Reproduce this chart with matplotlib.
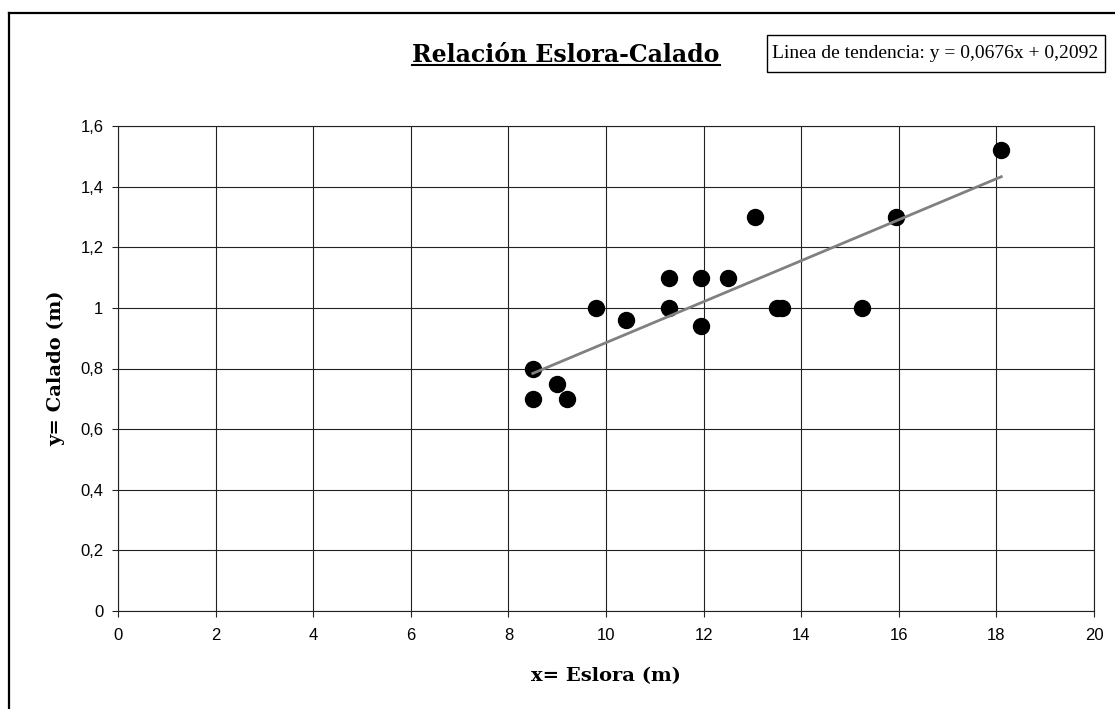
import matplotlib
matplotlib.use('Agg')
import matplotlib.pyplot as plt
from matplotlib.lines import Line2D
from matplotlib.patches import Rectangle
import numpy as np

# Data (eslora / calado en metros)
eslora = [8.5, 8.5, 9.0, 9.2, 9.8, 10.4, 11.3, 11.3, 11.95, 11.95,
          12.5, 13.05, 13.5, 13.6, 15.25, 15.95, 18.1]
calado = [0.8, 0.7, 0.75, 0.7, 1.0, 0.96, 1.1, 1.0, 1.1, 0.94,
          1.1, 1.3, 1.0, 1.0, 1.0, 1.3, 1.52]

# Linea de tendencia
pendiente = 0.0676
ordenada = 0.2092

x_ticks = np.arange(0, 21, 2)
y_ticks = np.arange(0, 1.61, 0.2)

W, H = 1115, 709
fig = plt.figure(figsize=(W / 100, H / 100), dpi=100)
ax = fig.add_axes([118 / W, 1 - 611 / H, 976 / W, 485 / H])

grid_col = '#222222'
ax.set_xlim(0, 20)
ax.set_ylim(0, 1.6)
ax.set_xticks(x_ticks)
ax.set_yticks(y_ticks)
ax.set_xticklabels([f'{v:g}' for v in x_ticks])
ax.set_yticklabels([f'{v:.1f}'.replace('.', ',') if v not in (0, 1) else f'{v:.0f}'
                    for v in y_ticks])
ax.grid(True, color=grid_col, linewidth=0.8)
ax.set_axisbelow(True)
for s in ax.spines.values():
    s.set_color(grid_col)
    s.set_linewidth(0.8)
ax.tick_params(axis='both', direction='out', length=4.5, width=0.8, color=grid_col,
               labelsize=12, labelcolor='black')
ax.tick_params(axis='x', pad=8)
ax.tick_params(axis='y', pad=6)
for lab in ax.get_xticklabels() + ax.get_yticklabels():
    lab.set_fontfamily('Liberation Sans')

# Puntos
ax.plot(eslora, calado, 'o', color='black', markersize=11.5, zorder=3)

# Tendencia
xt = np.array([min(eslora), max(eslora)])
ax.plot(xt, pendiente * xt + ordenada, color='#808080', linewidth=2, zorder=4)

# Etiquetas de ejes
ax.set_xlabel('x= Eslora (m)', fontfamily='DejaVu Serif', fontweight='bold', fontsize=14)
ax.set_ylabel('y= Calado (m)', fontfamily='DejaVu Serif', fontweight='bold', fontsize=14)
ax.xaxis.set_label_coords(0.5, (611 - 676) / 485)
ax.xaxis.label.set_va('center')
ax.yaxis.set_label_coords((56 - 118) / 976, 0.5)
ax.yaxis.label.set_va('center')

# Titulo subrayado
title = fig.text(566 / W, 1 - 62 / H, 'Relación Eslora-Calado', ha='center', va='baseline',
                 fontfamily='DejaVu Serif', fontweight='bold', fontsize=17)
fig.canvas.draw()
bb = title.get_window_extent(fig.canvas.get_renderer())
uy = 1 - 65 / H
fig.add_artist(Line2D([bb.x0 / W, bb.x1 / W], [uy, uy], color='black', linewidth=1.5))

# Cuadro de la ecuacion
fig.add_artist(Rectangle((767 / W, 1 - 72 / H), 338 / W, 37 / H, transform=fig.transFigure,
                         fill=False, edgecolor='black', linewidth=1))
fig.text(935 / W, 1 - 58 / H,
         f'Linea de tendencia: y = {pendiente:.4f}x + {ordenada:.4f}'.replace('.', ','),
         ha='center', va='baseline', fontfamily='Liberation Serif', fontsize=14)

# Borde del grafico
fig.add_artist(Line2D([9 / W, 9 / W], [0, 1 - 13 / H], color='black', linewidth=1.6))
fig.add_artist(Line2D([9 / W, 1], [1 - 13 / H, 1 - 13 / H], color='black', linewidth=1.6))

fig.savefig('out.png', dpi=100)
